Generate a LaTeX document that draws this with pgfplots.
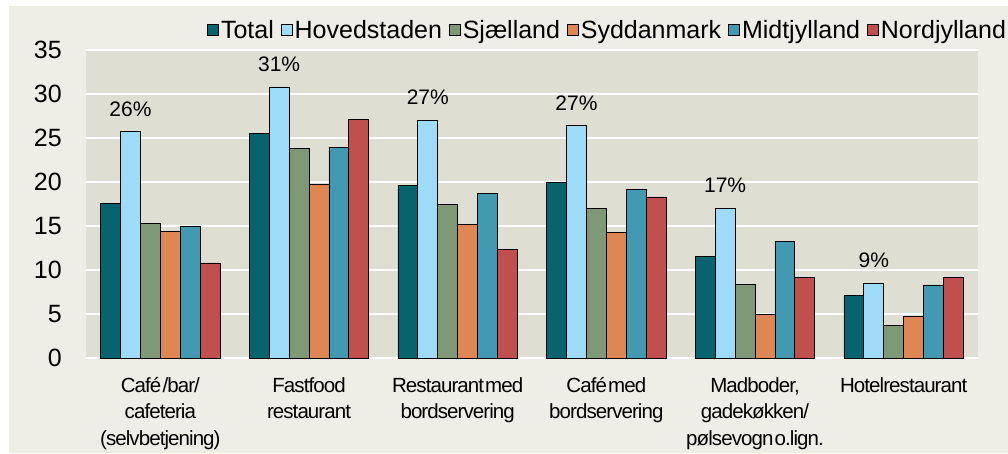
\documentclass[border=0pt]{standalone}
\usepackage{pgfplots}
\pgfplotsset{compat=1.18}
\usepackage{fontspec}
\setmainfont{Liberation Sans}
\newfontfamily\condfont{Liberation Sans}[LetterSpace=-4.5, WordSpace=0.25]
\definecolor{bgout}{HTML}{EEEDE6}
\definecolor{bgin}{HTML}{DFDED3}
\definecolor{cTotal}{HTML}{07646F}
\definecolor{cHoved}{HTML}{9DDBF8}
\definecolor{cSjael}{HTML}{7F9977}
\definecolor{cSyd}{HTML}{DE8754}
\definecolor{cMidt}{HTML}{4299B1}
\definecolor{cNord}{HTML}{C0504E}
\begin{document}
\begin{tikzpicture}
\useasboundingbox (0,0) rectangle (1008pt,453pt);
\clip (0,0) rectangle (1008pt,453pt);
\fill[white] (0,0) rectangle (1008pt,453pt);
\fill[bgout] (9pt,0) rectangle (1008pt,447pt);
\begin{axis}[
  at={(86pt,95pt)}, anchor=south west,
  scale only axis, width=892pt, height=308pt,
  xmin=-0.5, xmax=5.5, ymin=0, ymax=35,
  ybar=0pt, bar width=19.9pt,
  axis background/.style={fill=bgin},
  axis line style={draw=none},
  major tick length=0pt,
  ytick={0,5,...,35},
  ymajorgrids, grid style={white, line width=1.6pt},
  xtick={0,...,5},
  xticklabels={{Café /bar/\\cafeteria\\(selvbetjening)},{Fastfood\\restaurant},{Restaurant med\\bordservering},{Café med\\bordservering},{Madboder,\\gadekøkken/\\pølsevogn o.lign.},{Hotelrestaurant}},
  xticklabel style={align=center, font=\condfont\fontsize{20.5}{26.5}\selectfont, anchor=north, inner sep=0pt, yshift=-19pt},
  yticklabel style={font=\fontsize{25}{25}\selectfont, anchor=east, inner sep=0pt, xshift=-24pt},
  /pgf/number format/assume math mode=true,
  every axis plot/.append style={draw=black, line width=0.8pt},
  legend image code/.code={\draw[#1, draw=black, line width=0.8pt] (0pt,-5.5pt) rectangle (11pt,5.5pt);},
  legend style={at={(0.1357,1.065)}, anchor=west, draw=none, fill=none, inner sep=0pt,
    legend columns=-1, font=\fontsize{25}{25}\selectfont,
    nodes={inner sep=2pt},
    /tikz/every even column/.append style={column sep=5pt}},
]
\addplot[fill=cTotal] coordinates {(0,17.6) (1,25.5) (2,19.6) (3,20.0) (4,11.5) (5,7.1)};
\addplot[fill=cHoved, nodes near coords, point meta=explicit symbolic,
  every node near coord/.append style={font=\fontsize{21}{21}\selectfont, inner sep=0pt, yshift=15pt, text=black}]
  coordinates {(0,25.7)[26\%] (1,30.8)[31\%] (2,27.0)[27\%] (3,26.4)[27\%] (4,17.0)[17\%] (5,8.5)[9\%]};
\addplot[fill=cSjael] coordinates {(0,15.3) (1,23.8) (2,17.4) (3,17.0) (4,8.4) (5,3.7)};
\addplot[fill=cSyd] coordinates {(0,14.4) (1,19.7) (2,15.2) (3,14.3) (4,4.9) (5,4.7)};
\addplot[fill=cMidt] coordinates {(0,14.9) (1,23.9) (2,18.7) (3,19.2) (4,13.2) (5,8.3)};
\addplot[fill=cNord] coordinates {(0,10.8) (1,27.1) (2,12.3) (3,18.3) (4,9.2) (5,9.2)};
\legend{Total,Hovedstaden,Sjælland,Syddanmark,Midtjylland,Nordjylland}
\node[anchor=west, inner sep=0pt, font=\fontsize{22}{22}\selectfont] at (axis description cs:0.002,1.039) {Procent};
\end{axis}
\end{tikzpicture}
\end{document}
